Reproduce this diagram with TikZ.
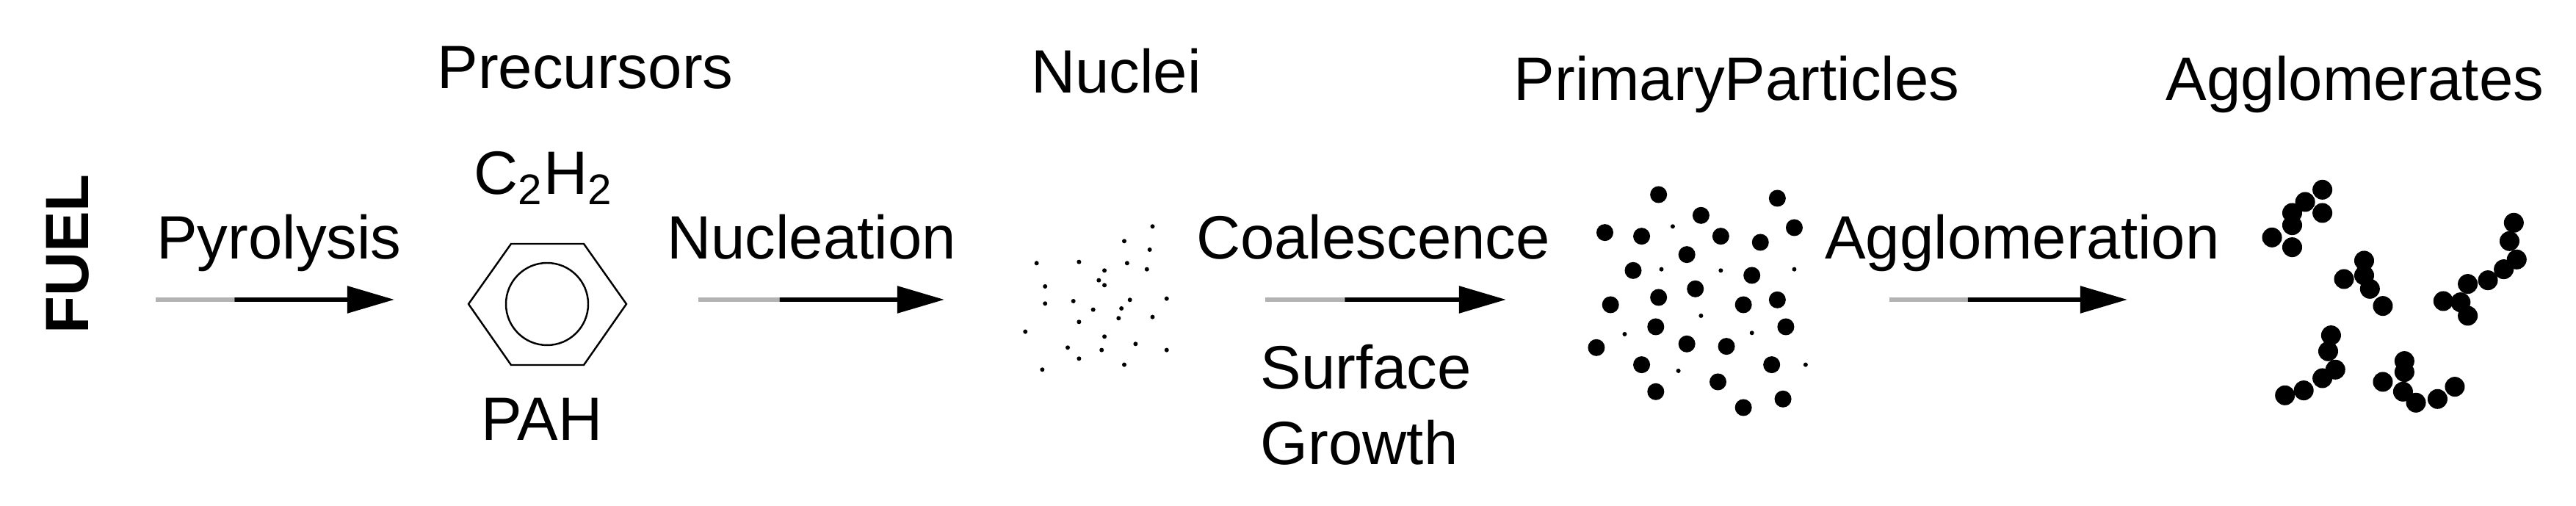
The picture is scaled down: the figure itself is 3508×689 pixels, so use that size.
\documentclass[tikz,border=0pt]{standalone}
\usepackage{fontspec}
\setmainfont{Liberation Sans}
\usetikzlibrary{arrows.meta,calc}
\begin{document}
\begin{tikzpicture}[x=0.01cm,y=-0.01cm,
  lbl/.style={anchor=base,inner sep=0pt,font=\fontsize{23.7}{28}\selectfont},
  flow/.style={line width=4.5pt*0.35,-{Triangle[length=0.64cm,width=0.36cm]}},
  tail/.style={line width=4.5pt*0.35,gray!60},
  pdot/.style={circle,fill=black,inner sep=0pt,minimum size=0.23cm},
  adot/.style={circle,fill=black,inner sep=0pt,minimum size=0.27cm},
  ndot/.style={circle,fill=black,inner sep=0pt,minimum size=0.06cm}]
\useasboundingbox (0,0) rectangle (3508,689);
% FUEL
\node[rotate=90,inner sep=0pt,font=\fontsize{23.7}{28}\selectfont\bfseries] (fuel) at (92,346) {FUEL};
% titles
\node[lbl] (t1) at (797,121) {Precursors};
\node[lbl] (t2) at (1520,127) {Nuclei};
\node[lbl] (t3) at (2365,137) {PrimaryParticles};
\node[lbl] (t4) at (3207,137) {Agglomerates};
% precursors
\node[lbl] (c2h2) at (740,265) {C\textsubscript{2}H\textsubscript{2}};
\node[lbl] (pah) at (738,600) {PAH};
\coordinate (hex) at (745,414);
\draw[line width=0.7pt] (638,414) -- (696,332) -- (795,332) -- (853,414) -- (795,497) -- (696,497) -- cycle;
\draw[line width=0.7pt] (hex) circle[radius=56];
% labels
\node[lbl] (pyr) at (380,353) {Pyrolysis};
\node[lbl] (nuc) at (1105,353) {Nucleation};
\node[lbl] (coa) at (1870,353) {Coalescence};
\node[lbl,anchor=base west] (surf) at (1716,530) {Surface};
\node[lbl,anchor=base west] (grow) at (1716,633) {Growth};
\node[lbl] (agg) at (2754,353) {Agglomeration};
% arrows
\foreach \n/\a/\b in {a1/212/537, a2/951/1286, a3/1723/2051, a4/2573/2897}{
  \coordinate (\n s) at (\a,408);
  \coordinate (\n e) at (\b,408);
  \coordinate (\n m) at ($(\n s)!0.33!(\n e)$);
}
\draw[tail] (a1s) -- (a1m); \draw[flow] (a1m) -- (a1e);
\draw[tail] (a2s) -- (a2m); \draw[flow] (a2m) -- (a2e);
\draw[tail] (a3s) -- (a3m); \draw[flow] (a3m) -- (a3e);
\draw[tail] (a4s) -- (a4m); \draw[flow] (a4m) -- (a4e);
% nuclei
\begin{scope}[shift={(1300,250)},xscale=0.77,yscale=0.3333]
\foreach \p in {(350,175),(300,235),(345,270),(145,325),(220,320),(305,325),(340,350),(265,355),(255,395),(160,420),(265,415),(210,480),(160,490),(375,470),(310,475),(245,515),(295,510),(350,545),(290,550),(220,565),(125,605),(265,625),(320,655),(200,670),(260,680),(375,680),(220,715),(300,740),(155,760)}
  \node[ndot] at \p {};
\foreach \p in {(1245,45),(1455,60),(1320,130),(1485,180),(1150,200),(1215,215),(1355,215),(1425,240),(1295,290),(1200,355),(1410,375),(1310,430),(1245,465),(1160,495),(1395,495),(1455,475),(1240,585),(1470,585),(1295,655),(1365,665),(1135,670),(1215,740),(1445,740),(1350,810),(1240,850),(1465,880),(1395,915)}
  \node[pdot] at \p {};
\foreach \p in {(1270,175),(1250,350),(1355,355),(1485,350),(1320,540),(1185,615),(1410,610),(1280,765),(1505,740)}
  \node[ndot] at \p {};
\end{scope}
% agglomerates
\begin{scope}[shift={(2900,230)},xscale=0.392,yscale=0.3333]
\foreach \p in {(670,85),(610,135),(670,180),(565,180),(565,230),(495,280),(565,320),
 (815,375),(745,450),(815,435),(835,490),(880,560),
 (1335,220),(1320,295),(1345,370),(1300,410),(1245,455),(1175,470),(1090,540),(1150,545),(1175,600),
 (700,680),(690,745),(715,820),(670,855),(605,905),(540,925),
 (955,785),(955,830),(880,870),(950,910),(995,955),(1070,940),(1130,890)}
  \node[adot] at \p {};
\end{scope}
\end{tikzpicture}
\end{document}
